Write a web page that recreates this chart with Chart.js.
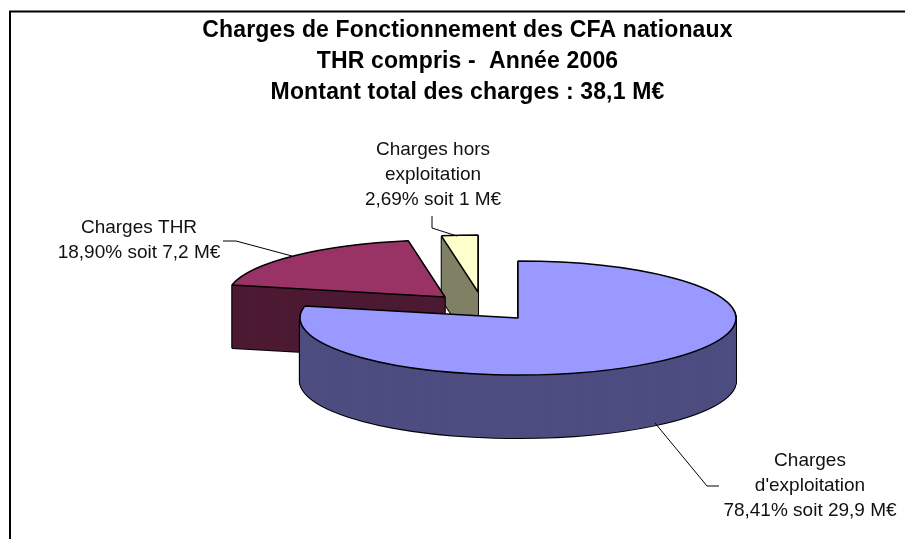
<!DOCTYPE html>
<html>
<head>
<meta charset="utf-8">
<script src="https://cdn.jsdelivr.net/npm/chart.js@4"></script>
<style>
  body { margin: 0; background: #fff; }
  canvas { display: block; }
</style>
</head>
<body>
<canvas id="chart" width="905" height="539"></canvas>
<script>
const categories = ["Charges d'exploitation", 'Charges THR', 'Charges hors exploitation'];
const shares = [78.41, 18.9, 2.69];
const titleLines = ['Charges de Fonctionnement des CFA nationaux', 'THR compris -  Année 2006', 'Montant total des charges : 38,1 M€'];
const sliceLabels = [
  ['Charges', "d'exploitation", '78,41% soit 29,9 M€'],
  ['Charges THR', '18,90% soit 7,2 M€'],
  ['Charges hors', 'exploitation', '2,69% soit 1 M€'],
];
const faceColors = ['#9999ff', '#993366', '#ffffcc'];
const wallColors = ['#4d4d80', '#4d1a33', '#808066'];

// layout of the tilted pie
const center = { x: 518, y: 318 };
const tilt = 0.2615;
const depth = 63;
const explode = [[0, 0], [-73, -21], [-40, -26]];
const labelPos = [[810, 461], [139, 228], [433, 150]];
const leaders = [
  [[655, 423], [707, 486], [719, 486]],
  [[292, 256], [236, 241], [223, 241]],
  [[457, 236], [432, 228], [432, 216]],
];

function drawArc(ctx, arc, i, dy, fill, borderWidth) {
  const saved = arc.options;
  arc.options = { ...saved, backgroundColor: fill, borderWidth };
  ctx.save();
  ctx.translate(center.x + explode[i][0], center.y + explode[i][1] + dy);
  ctx.scale(1, tilt);
  ctx.translate(-arc.x, -arc.y);
  arc.draw(ctx);
  ctx.restore();
  arc.options = saved;
}

const tiltedPie = {
  id: 'tiltedPie',
  beforeDraw(chart) {
    // the title runs a little wider than the plain font
    chart.ctx.letterSpacing = '0.15px';
  },
  beforeDatasetsDraw(chart) {
    const { ctx } = chart;
    const arcs = chart.getDatasetMeta(0).data;

    // stroke in screen space so the scale does not thin the outline
    const stroke = ctx.stroke;
    ctx.stroke = function () {
      ctx.save();
      ctx.setTransform(1, 0, 0, 1, 0, 0);
      stroke.call(ctx);
      ctx.restore();
    };

    // back slices first
    [2, 1, 0].forEach((i) => {
      for (let d = depth; d > 0; d--) drawArc(ctx, arcs[i], i, d, '#000', 2);
      for (let d = depth; d > 0; d--) drawArc(ctx, arcs[i], i, d, wallColors[i], 0);
      drawArc(ctx, arcs[i], i, 0, faceColors[i], 1.5);
    });
    delete ctx.stroke;

    ctx.strokeStyle = '#000';
    ctx.lineWidth = 1;
    leaders.forEach((pts) => {
      ctx.beginPath();
      pts.forEach((p, k) => (k ? ctx.lineTo(p[0], p[1]) : ctx.moveTo(p[0], p[1])));
      ctx.stroke();
    });

    ctx.fillStyle = '#111';
    ctx.font = '19px "Liberation Sans"';
    ctx.letterSpacing = '0px';
    ctx.textAlign = 'center';
    ctx.textBaseline = 'middle';
    sliceLabels.forEach((lines, i) => {
      lines.forEach((t, k) => ctx.fillText(t, labelPos[i][0], labelPos[i][1] + k * 25));
    });

    // frame, open on the right and bottom
    ctx.lineWidth = 2;
    ctx.beginPath();
    ctx.moveTo(10, 539);
    ctx.lineTo(10, 11.5);
    ctx.lineTo(905, 11.5);
    ctx.stroke();
    return false;
  },
};

new Chart(document.getElementById('chart'), {
  type: 'pie',
  data: {
    labels: categories,
    datasets: [{
      data: shares,
      backgroundColor: faceColors,
      borderColor: '#000',
    }],
  },
  options: {
    responsive: false,
    animation: false,
    radius: 218,
    layout: { padding: { left: 30 } },
    plugins: {
      legend: { display: false },
      tooltip: { enabled: false },
      title: {
        display: true,
        text: titleLines,
        color: '#000',
        font: { family: '"Liberation Sans"', size: 23, weight: 'bold', lineHeight: 1.348 },
        padding: { top: 15, bottom: 0 },
      },
    },
  },
  plugins: [tiltedPie],
});
</script>
</body>
</html>
